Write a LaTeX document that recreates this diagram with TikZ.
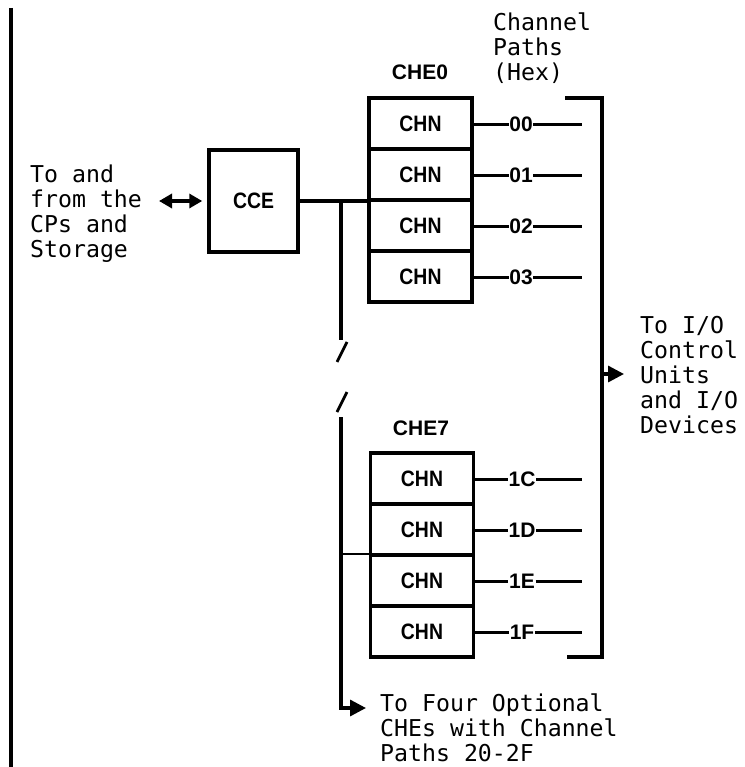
\documentclass[tikz,border=0pt]{standalone}
\usepackage{fontspec}
\setmainfont{Liberation Sans}
\newfontfamily\typefont{DejaVu Sans Mono}
\newfontfamily\boxfont[FakeStretch=0.87]{Liberation Sans}
\usetikzlibrary{arrows.meta,positioning}

\begin{document}
\begin{tikzpicture}[
    x=1pt,y=-1pt,
    cell/.style={draw, line width=3.5pt, minimum width=103pt, minimum height=51pt,
                 inner sep=0pt, font=\boxfont\bfseries\fontsize{22.3}{25}\selectfont},
    unit/.style={draw, line width=3.5pt, minimum width=89pt, minimum height=102pt,
                 inner sep=0pt, font=\boxfont\bfseries\fontsize{22.3}{25}\selectfont},
    title/.style={inner sep=0pt, font=\bfseries\fontsize{21}{25}\selectfont},
    note/.style={align=left, inner sep=0pt, font=\typefont\fontsize{23.2}{25}\selectfont},
    chpath/.style={inner sep=0.5pt, font=\bfseries\fontsize{21}{24}\selectfont},
    wire/.style={line width=2.8pt},
    link/.style={line width=3.3pt},
    arrow/.style={line width=3.3pt, -{Triangle[length=16pt,width=16pt]}},
    dblarrow/.style={line width=3.3pt, {Triangle[length=13pt,width=14pt]}-{Triangle[length=13pt,width=14pt]}}
]
\useasboundingbox (0,0) rectangle (744,767);

% rule at the left edge
\coordinate (railtop) at (11,8);
\coordinate (railbot) at (11,767);
\draw[link] (railtop) -- (railbot);

% CPs side and the CCE
\node[note, anchor=north west] (cps) at (30,165) {To and\\from the\\CPs and\\Storage};
\node[unit] (cce) at (253.5,201) {CCE};
\coordinate (cpsend) at (159,201);
\draw[dblarrow, shorten >=5pt] (cpsend) -- (cce.west);

% CHE0 with paths 00-03
\node[note, anchor=north west] (hdr) at (493,13) {Channel\\Paths\\(Hex)};
\node[title] (che0) at (420,72.5) {CHE0};
\foreach \r/\p in {0/00,1/01,2/02,3/03}{
  \node[cell] (a\r) at (420.5,{123.5+51*\r}) {CHN};
  \node[chpath] (pa\r) at (521,{124.5+51*\r}) {\p};
  \coordinate (ea\r) at (582,{124.5+51*\r});
  \draw[wire] (a\r.east |- pa\r) -- (pa\r.west);
  \draw[wire] (pa\r.east) -- (ea\r);
}
\draw[link] (cce.east) -- (cce.east -| a1.south west);

% bus down to CHE7, with a break
\coordinate (tap) at (341,201);
\coordinate (gapA) at (341,340);
\coordinate (gapB) at (341,417);
\coordinate (busend) at (341,708);
\coordinate (opttip) at (366,708);
\draw[link] (tap) -- (gapA);
\draw[wire] ([shift={(-4,22)}]gapA) -- ++(10,-20);
\draw[wire] ([shift={(-4,-5)}]gapB) -- ++(10,-20);
\draw[arrow] (gapB) -- (busend) -- (opttip);
\node[note, anchor=north west] (opt) at (380,694) {To Four Optional\\CHEs with Channel\\Paths 20-2F};

% CHE7 with paths 1C-1F
\node[title] (che7) at (421,428) {CHE7};
\foreach \r/\p in {0/1C,1/1D,2/1E,3/1F}{
  \node[cell] (b\r) at (422,{478.5+51*\r}) {CHN};
  \node[chpath] (pb\r) at (522,{479.5+51*\r}) {\p};
  \coordinate (eb\r) at (582,{479.5+51*\r});
  \draw[wire] (b\r.east |- pb\r) -- (pb\r.west);
  \draw[wire] (pb\r.east) -- (eb\r);
}
\coordinate (tap7) at (341,554);
\draw[wire] (tap7) -- (tap7 -| b1.south west);

% bracket to the I/O side
\coordinate (brtop) at (565,98);
\coordinate (brbot) at (602,657);
\coordinate (brend) at (567,657);
\draw[link] (brtop) -| (brbot) -- (brend);
\coordinate (brmid) at (602,374);
\coordinate (iotip) at (624,374);
\draw[arrow] (brmid) -- (iotip);
\node[note, anchor=north west] (io) at (640,316) {To I/O\\Control\\Units\\and I/O\\Devices};
\end{tikzpicture}
\end{document}
